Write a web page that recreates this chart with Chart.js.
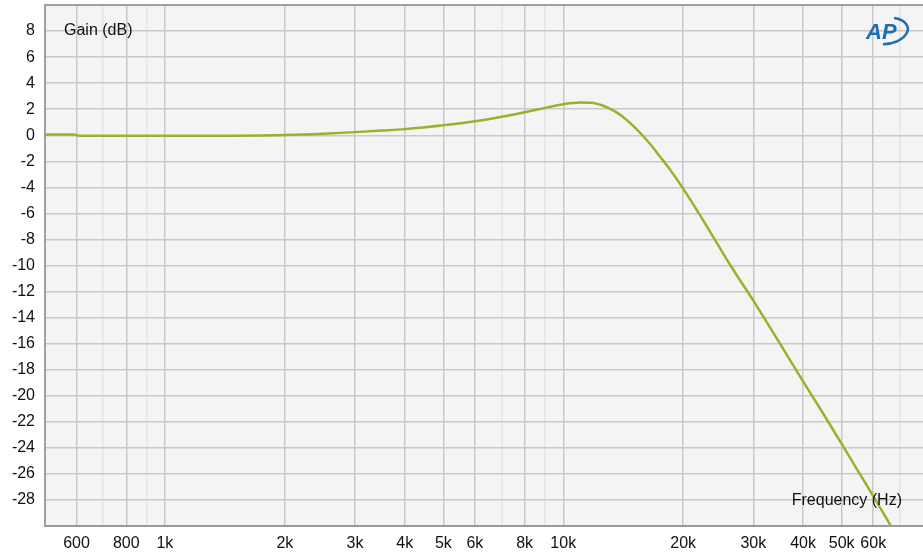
<!DOCTYPE html>
<html>
<head>
<meta charset="utf-8">
<script src="https://cdn.jsdelivr.net/npm/chart.js@4"></script>
<style>
    html, body { margin: 0; padding: 0; background: #ffffff; overflow: hidden; }
    canvas { display: block; }
</style>
</head>
<body>
<canvas id="myChart" width="923" height="553"></canvas>
<script>
// frequency response
const freqs = [500, 590, 610, 1000, 1500, 2000, 2500, 3000, 3500, 4000, 5000, 6000, 7000, 8000, 9000,
    10000, 10500, 11000, 11800, 12500, 13000, 13700, 14400, 15000, 15800, 16600, 17400, 18500, 20000,
    22000, 24000, 26300, 30000, 35000, 40000, 45000, 50000, 55000, 60000, 65000, 67000];
const gain = [0.05, 0.05, -0.03, -0.04, -0.03, 0.02, 0.12, 0.24, 0.36, 0.47, 0.76, 1.07, 1.42, 1.77, 2.1,
    2.38, 2.47, 2.52, 2.5, 2.3, 2.08, 1.7, 1.2, 0.7, 0, -0.75, -1.55, -2.6, -4.1,
    -6.1, -8.0, -10.0, -12.7, -16.0, -18.9, -21.4, -23.7, -25.8, -27.7, -29.5, -30.2];

// x grid lines and which of them get a label
const xGrid = [600, 700, 800, 900, 1000, 2000, 3000, 4000, 5000, 6000, 7000, 8000, 9000, 10000,
    20000, 30000, 40000, 50000, 60000, 70000];
const xLabels = {600: '600', 800: '800', 1000: '1k', 2000: '2k', 3000: '3k', 4000: '4k', 5000: '5k',
    6000: '6k', 8000: '8k', 10000: '10k', 20000: '20k', 30000: '30k', 40000: '40k', 50000: '50k', 60000: '60k'};

const FONT = '"Liberation Sans", Arial, Helvetica, sans-serif';

// plot background, frame top, axis titles and the logo
const decor = {
    id: 'decor',
    beforeDraw(chart) {
        const {ctx, chartArea: a} = chart;
        ctx.save();
        ctx.fillStyle = '#f4f4f4';
        ctx.fillRect(a.left, a.top, a.right - a.left, a.bottom - a.top);
        ctx.restore();
    },
    afterDraw(chart) {
        const {ctx, chartArea: a} = chart;
        ctx.save();
        ctx.strokeStyle = '#a0a0a0';
        ctx.lineWidth = 2;
        ctx.beginPath();
        ctx.moveTo(a.left, a.top);
        ctx.lineTo(a.right, a.top);
        ctx.stroke();

        ctx.fillStyle = '#111';
        ctx.font = '16px ' + FONT;
        ctx.textBaseline = 'middle';
        ctx.textAlign = 'left';
        ctx.fillText('Gain (dB)', 64, 31);
        ctx.textAlign = 'right';
        ctx.fillText('Frequency (Hz)', 902, 501);

        // AP logo
        ctx.fillStyle = '#1f6db3';
        ctx.strokeStyle = '#1f6db3';
        ctx.font = 'italic bold 22px ' + FONT;
        ctx.textAlign = 'left';
        ctx.fillText('AP', 866, 33);
        ctx.lineWidth = 2.5;
        ctx.beginPath();
        ctx.ellipse(886, 31, 22, 13, -0.15, -1.1, 1.8);
        ctx.stroke();
        ctx.restore();
    }
};

let ctx = document.getElementById('myChart').getContext('2d');
let myChart = new Chart(ctx, {
    type: 'line',
    data: {
        datasets: [{
            data: freqs.map((f, i) => ({x: f, y: gain[i]})),
            borderColor: '#a3ad2c',
            borderWidth: 2.5,
            pointRadius: 0,
            fill: false,
            cubicInterpolationMode: 'monotone'
        }]
    },
    options: {
        responsive: false,
        animation: false,
        devicePixelRatio: 1,
        layout: {padding: {top: 5, right: 0, left: 0, bottom: 0}},
        plugins: {legend: {display: false}, tooltip: {enabled: false}},
        scales: {
            x: {
                type: 'logarithmic',
                min: 500,
                max: 80000,
                afterBuildTicks: (scale) => { scale.ticks = xGrid.map(v => ({value: v})); },
                afterFit: (scale) => { scale.height = 27; scale.paddingLeft = 0; scale.paddingRight = 0; },
                ticks: {
                    autoSkip: false,
                    maxRotation: 0,
                    padding: 8,
                    color: '#111',
                    font: {family: FONT, size: 16},
                    callback: (v) => xLabels[v] || ''
                },
                grid: {
                    drawTicks: false,
                    color: (c) => (c.tick && xLabels[c.tick.value]) ? '#c8c8c8' : '#e4e4e4',
                    lineWidth: 1.5
                },
                border: {color: '#999999', width: 2}
            },
            y: {
                min: -30,
                max: 10,
                afterFit: (scale) => { scale.width = 45; scale.paddingTop = 0; scale.paddingBottom = 0; },
                ticks: {
                    stepSize: 2,
                    autoSkip: false,
                    padding: 10,
                    color: '#111',
                    font: {family: FONT, size: 16},
                    callback: (v) => (v === 10 || v === -30) ? '' : v
                },
                grid: {drawTicks: false, color: '#c8c8c8', lineWidth: 1.5},
                border: {color: '#a0a0a0', width: 2}
            }
        }
    },
    plugins: [decor]
});
</script>
</body>
</html>
